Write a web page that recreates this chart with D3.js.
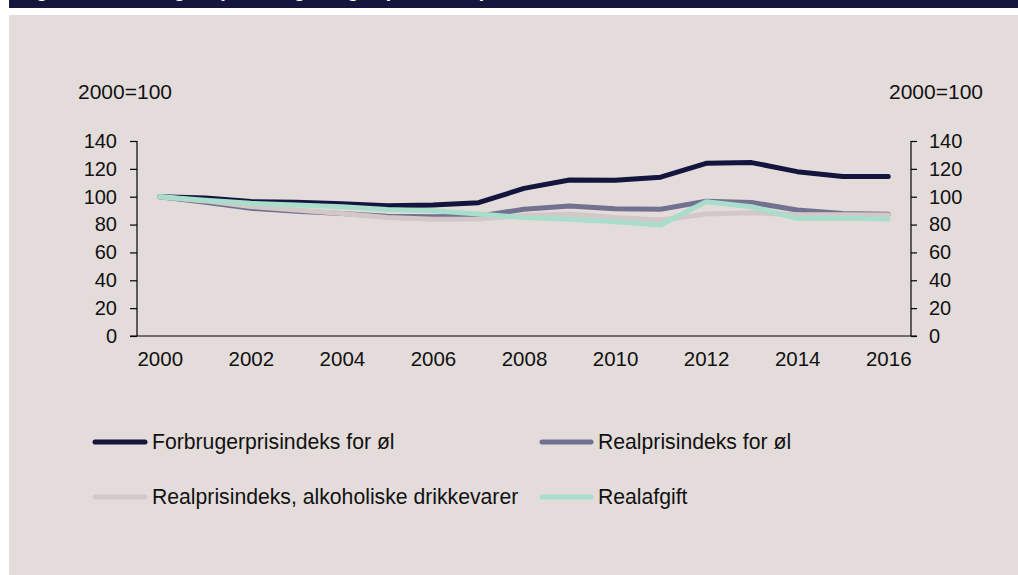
<!DOCTYPE html>
<html>
<head>
<meta charset="utf-8">
<script src="https://cdn.jsdelivr.net/npm/d3@7"></script>
<style>
  html, body { margin: 0; padding: 0; background: #ffffff; }
  svg { display: block; }
  text { font-family: Arial, "Liberation Sans", Helvetica, sans-serif; }
</style>
</head>
<body>
<svg id="chart" width="1018" height="575"></svg>
<script>
const years = [2000,2001,2002,2003,2004,2005,2006,2007,2008,2009,2010,2011,2012,2013,2014,2015,2016];
const xTickYears = [2000,2002,2004,2006,2008,2010,2012,2014,2016];
const yTicks = [0,20,40,60,80,100,120,140];

const forbrugerOl = [100, 99, 96.5, 96, 95, 93.5, 94, 95.7, 106, 112, 111.8, 114, 124, 124.5, 118, 114.5, 114.5];
const realOl      = [100, 96, 91.7, 89.5, 88, 86, 85.7, 86, 91, 93.3, 91.4, 91, 96.7, 95.9, 90.5, 88, 87.5];
const realAlko    = [100, 97, 93, 90.5, 88, 85, 83.8, 84, 86.6, 87.6, 85, 83.3, 87.6, 88.5, 87, 87, 86.8];
const realAfgift  = [100, 97.5, 95.3, 94, 92.8, 90.8, 90, 87.6, 85, 83.8, 82, 79.7, 96.4, 92.8, 84.5, 84.5, 84];

const seriesNames = ["Forbrugerprisindeks for øl", "Realprisindeks for øl", "Realprisindeks, alkoholiske drikkevarer", "Realafgift"];
const seriesValues = [forbrugerOl, realOl, realAlko, realAfgift];
const seriesColors = ["#14153f", "#727290", "#d3c8c8", "#a9ddcc"];

const titleText = "Figur 2. Udvikling i ølpriser og ølafgift (2000=100)";
const unitLabel = "2000=100";

(function () {
const svg = d3.select("#chart");

// header band and panel
svg.append("rect").attr("x", 9).attr("y", 0).attr("width", 1009).attr("height", 8).attr("fill", "#15163d");
svg.append("text").attr("x", 18).attr("y", -3).attr("fill", "#ffffff")
  .attr("font-size", 20).attr("font-weight", "bold").text(titleText);
svg.append("rect").attr("x", 9).attr("y", 15).attr("width", 1009).attr("height", 560).attr("fill", "#e4dcdb");

const pL = 137, pR = 911, pT = 141, pB = 336;

const x = d3.scalePoint().domain(years).range([pL, pR]).padding(0.5);
const y = d3.scaleLinear().domain([0, 140]).range([pB, pT]);

const fontFam = "Arial, 'Liberation Sans', Helvetica, sans-serif";

// axes
const yLeft = d3.axisLeft(y).tickValues(yTicks).tickSize(7).tickPadding(13).tickFormat(d3.format("d"));
const yRight = d3.axisRight(y).tickValues(yTicks).tickSize(6).tickPadding(12).tickFormat(d3.format("d"));

const gl = svg.append("g").attr("transform", `translate(${pL},0)`).call(yLeft);
const gr = svg.append("g").attr("transform", `translate(${pR},0)`).call(yRight);
[gl, gr].forEach(g => {
  g.select(".domain").attr("d", `M0,${pT}V${pB}`).attr("stroke", "#000").attr("stroke-width", 1.2);
  g.selectAll(".tick line").attr("stroke", "#000").attr("stroke-width", 1.2);
  g.selectAll(".tick text").attr("font-size", 20).attr("fill", "#111").attr("font-family", fontFam);
});

// x axis
const xAxis = d3.axisBottom(x).tickValues(xTickYears).tickSize(0).tickPadding(15).tickFormat(d3.format("d"));
const gx = svg.append("g").attr("transform", `translate(0,${pB})`).call(xAxis);
gx.select(".domain").remove();
gx.selectAll(".tick text").attr("font-size", 20.5).attr("fill", "#111").attr("font-family", fontFam);
svg.append("line").attr("x1", pL - 7).attr("x2", pR + 6).attr("y1", pB).attr("y2", pB)
  .attr("stroke", "#000").attr("stroke-width", 1.2);

// unit labels
svg.append("text").attr("x", 78).attr("y", 99).attr("font-size", 21).attr("fill", "#111").text(unitLabel);
svg.append("text").attr("x", 983).attr("y", 99).attr("font-size", 21).attr("fill", "#111")
  .attr("text-anchor", "end").text(unitLabel);

// lines
const line = d3.line().x((d, i) => x(years[i])).y(d => y(d));
seriesValues.forEach((vals, k) => {
  svg.append("path").datum(vals).attr("d", line)
    .attr("fill", "none").attr("stroke", seriesColors[k]).attr("stroke-width", 5)
    .attr("stroke-linejoin", "round").attr("stroke-linecap", "round");
});

// legend
const legendPos = [
  {lx1: 95, lx2: 145, tx: 152, cy: 442},
  {lx1: 542, lx2: 591, tx: 598, cy: 442},
  {lx1: 95, lx2: 145, tx: 152, cy: 497},
  {lx1: 542, lx2: 591, tx: 598, cy: 497}
];
seriesNames.forEach((name, k) => {
  const p = legendPos[k];
  svg.append("line").attr("x1", p.lx1).attr("x2", p.lx2).attr("y1", p.cy).attr("y2", p.cy)
    .attr("stroke", seriesColors[k]).attr("stroke-width", 5).attr("stroke-linecap", "round");
  svg.append("text").attr("x", p.tx).attr("y", p.cy + 7).attr("font-size", 21.2).attr("fill", "#111").text(name);
});
})();
</script>
</body>
</html>
